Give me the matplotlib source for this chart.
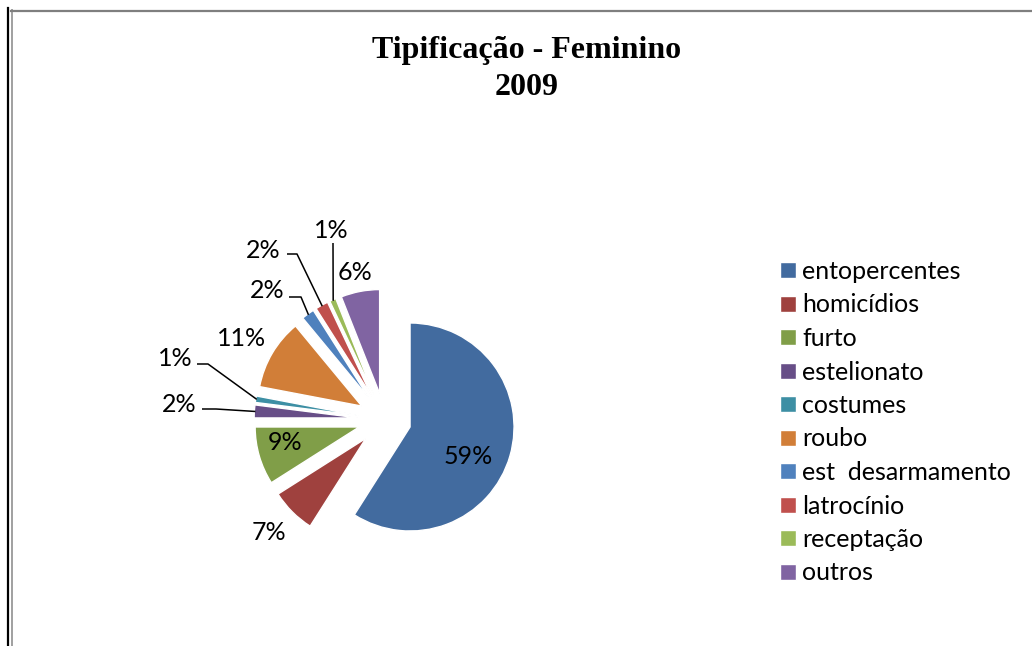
import numpy as np
import matplotlib.pyplot as plt
from matplotlib.lines import Line2D

categories = ["entopercentes", "homicídios", "furto", "estelionato", "costumes",
              "roubo", "est  desarmamento", "latrocínio", "receptação", "outros"]
percent = [59, 7, 9, 2, 1, 11, 2, 2, 1, 6]
colors = ["#426B9F", "#9F413E", "#809E48", "#674E87", "#3D8FA4",
          "#D17E38", "#4F81BD", "#C0504D", "#9BBB59", "#8064A2"]

W, H = 1032, 646


def px(x, y):
    # image pixel (y down) -> data coords (y up)
    return x, H - y


fig = plt.figure(figsize=(W / 100, H / 100), dpi=100)
ax = fig.add_axes([0, 0, 1, 1])

radius = 104
# explode is in data units here (pixels)
wedges, _ = ax.pie(percent, colors=colors, startangle=90, counterclock=False,
                   center=px(384.6, 419.6), radius=radius,
                   explode=[26.5] * len(percent),
                   wedgeprops=dict(edgecolor="white", linewidth=1))
ax.set_xlim(0, W)
ax.set_ylim(0, H)
ax.set_aspect("equal")
ax.axis("off")

lab_font = dict(family="Lato", size=18, color="black")

# label positions (image px) and leader line start points
label_pos = [(468, 457), (269, 533), (285, 443), (179, 404), (175, 359),
             (242, 338), (267, 290), (263, 251), (331, 230), (355, 273)]
leaders = {3: [(202, 409), (216, 409)],
           4: [(197, 364), (208, 364)],
           6: [(289, 297), (301, 297)],
           7: [(287, 254), (297, 254)],
           8: [(333, 243)]}

for i, (w, p) in enumerate(zip(wedges, percent)):
    x, y = px(*label_pos[i])
    ax.text(x, y, f"{p}%", ha="center", va="center", **lab_font)
    if i in leaders:
        mid = np.deg2rad((w.theta1 + w.theta2) / 2)
        cx, cy = w.center
        ax_pt = (cx + w.r * 0.99 * np.cos(mid), cy + w.r * 0.99 * np.sin(mid))
        pts = [px(*q) for q in leaders[i]] + [ax_pt]
        xs, ys = zip(*pts)
        ax.plot(xs, ys, color="black", lw=1.1, solid_capstyle="butt")

ax.legend(wedges, categories, loc="upper left",
          bbox_to_anchor=(780 / W, (H - 260) / H), frameon=False,
          prop=dict(family="Lato", size=18), handlelength=0.64,
          handleheight=0.6, handletextpad=0.25, labelspacing=0.42,
          borderpad=0, borderaxespad=0)

tx, ty = px(527, 69)
ax.text(tx, ty, "Tipificação - Feminino\n2009", ha="center", va="center",
        family="Liberation Serif", weight="bold", size=23, linespacing=1.37)

# page border lines
fig.add_artist(Line2D([7.5 / W, 7.5 / W], [0, 1 - 8 / H], transform=fig.transFigure,
                      color="black", lw=1.6))
fig.add_artist(Line2D([12 / W, 12 / W], [0, 1 - 10 / H], transform=fig.transFigure,
                      color="#A0A0A0", lw=1.4))
fig.add_artist(Line2D([11 / W, 1], [1 - 10.5 / H, 1 - 10.5 / H], transform=fig.transFigure,
                      color="#7F7F7F", lw=1.6))

fig.savefig("out.png", dpi=100, facecolor="white")
